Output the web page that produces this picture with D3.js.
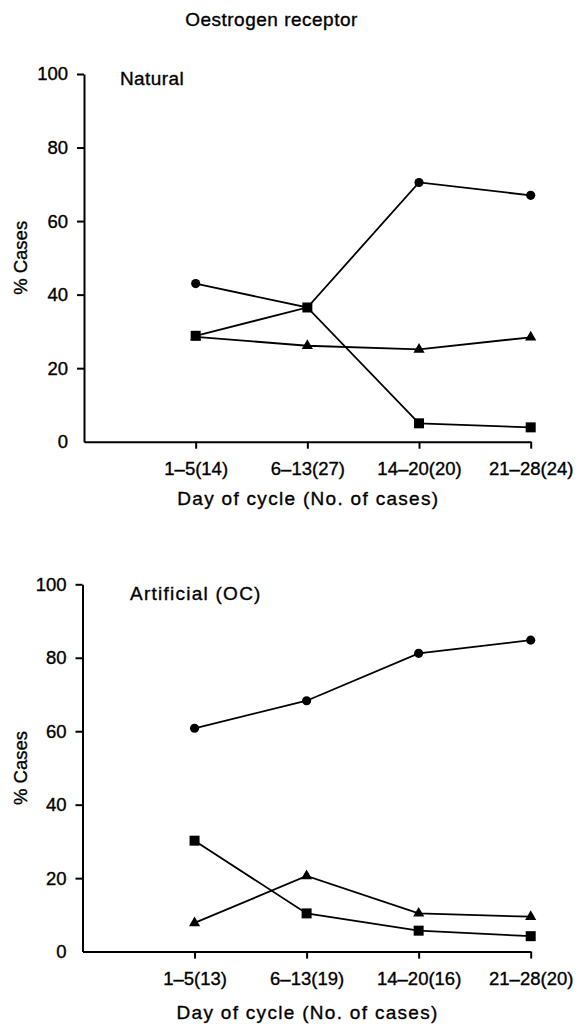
<!DOCTYPE html>
<html>
<head>
<meta charset="utf-8">
<script src="https://cdn.jsdelivr.net/npm/d3@7"></script>
<style>
  html, body { margin: 0; padding: 0; background: #fff; }
  svg { display: block; font-family: "Liberation Sans", Arial, Helvetica, sans-serif; }
  svg text { fill: #000; stroke: #000; stroke-width: 0.35px; }
</style>
</head>
<body>
<svg id="chart" width="577" height="1026"></svg>
<script>
// ---- data ----
const chartTitle = "Oestrogen receptor";
const xTitle = "Day of cycle (No. of cases)";
const yTitle = "% Cases";
const yTicks = [0, 20, 40, 60, 80, 100];

const naturalLabel = "Natural";
const naturalCategories = ["1–5(14)", "6–13(27)", "14–20(20)", "21–28(24)"];
const naturalCircle = [43, 36.5, 70.5, 67];
const naturalSquare = [28.8, 36.5, 5, 3.9];
const naturalTriangle = [28.5, 26.1, 25.1, 28.4];

const ocLabel = "Artificial (OC)";
const ocCategories = ["1–5(13)", "6–13(19)", "14–20(16)", "21–28(20)"];
const ocCircle = [60.8, 68.3, 81.2, 84.8];
const ocSquare = [30.2, 10.4, 5.7, 4.2];
const ocTriangle = [7.8, 20.6, 10.4, 9.5];

// ---- drawing ----
const svg = d3.select("#chart");
svg.append("rect").attr("width", 577).attr("height", 1026).attr("fill", "#fff");

svg.append("text")
  .attr("x", 271.5).attr("y", 26)
  .attr("text-anchor", "middle")
  .attr("font-size", 19).attr("letter-spacing", 0.5)
  .text(chartTitle);

function panel(cfg) {
  const x = d3.scaleLinear().domain([0, 4]).range([cfg.left, cfg.right]);
  const y = d3.scaleLinear().domain([0, 100]).range([cfg.bottom, cfg.top]);
  const g = svg.append("g");

  // y axis
  const ya = g.append("g")
    .attr("transform", `translate(${cfg.left},0)`)
    .call(d3.axisLeft(y).tickValues(yTicks).tickSize(7).tickPadding(9).tickSizeOuter(0));
  ya.select(".domain").attr("stroke-width", 2);
  ya.selectAll(".tick line").attr("stroke-width", 2)
    .filter(d => d === 0).remove();
  ya.selectAll(".tick text").attr("font-size", 18.5).attr("font-family", "Liberation Sans, Arial, sans-serif");

  // x axis
  const xa = g.append("g")
    .attr("transform", `translate(0,${cfg.bottom})`)
    .call(d3.axisBottom(x).tickValues([1, 2, 3, 4])
      .tickFormat(i => cfg.categories[i - 1])
      .tickSize(7).tickPadding(13.5).tickSizeOuter(0));
  xa.select(".domain").attr("stroke-width", 2);
  xa.selectAll(".tick line").attr("stroke-width", 2);
  xa.selectAll(".tick text").attr("font-size", 18.5).attr("font-family", "Liberation Sans, Arial, sans-serif");

  // axis titles
  g.append("text")
    .attr("x", (cfg.left + cfg.right) / 2 + 1)
    .attr("y", cfg.bottom + cfg.xTitleOffset)
    .attr("text-anchor", "middle")
    .attr("font-size", 19).attr("letter-spacing", 1.3)
    .text(xTitle);
  g.append("text")
    .attr("transform", `translate(27,${(cfg.top + cfg.bottom) / 2}) rotate(-90)`)
    .attr("text-anchor", "middle")
    .attr("font-size", 18.5)
    .text(yTitle);

  // panel label
  g.append("text")
    .attr("x", cfg.labelX).attr("y", cfg.labelY)
    .attr("font-size", 19).attr("letter-spacing", cfg.labelSpacing)
    .text(cfg.label);

  const line = d3.line().x((d, i) => x(i + 1)).y(d => y(d));
  const series = [
    { values: cfg.circle, shape: d3.symbolCircle, size: 66 },
    { values: cfg.triangle, shape: d3.symbolTriangle, size: 54 },
    { values: cfg.square, shape: d3.symbolSquare, size: 100 }
  ];
  series.forEach(s => {
    g.append("path").datum(s.values)
      .attr("d", line).attr("fill", "none")
      .attr("stroke", "#000").attr("stroke-width", 1.8);
  });
  series.forEach(s => {
    g.selectAll(null).data(s.values).enter().append("path")
      .attr("d", d3.symbol().type(s.shape).size(s.size))
      .attr("transform", (d, i) => `translate(${x(i + 1)},${y(d)})`)
      .attr("fill", "#000");
  });
}

panel({
  left: 84, right: 530.7, top: 74, bottom: 441.7,
  categories: naturalCategories,
  circle: naturalCircle, square: naturalSquare, triangle: naturalTriangle,
  label: naturalLabel, labelX: 120, labelY: 85, labelSpacing: 0.4,
  xTitleOffset: 63
});
panel({
  left: 82.5, right: 530.7, top: 584.3, bottom: 951.6,
  categories: ocCategories,
  circle: ocCircle, square: ocSquare, triangle: ocTriangle,
  label: ocLabel, labelX: 130, labelY: 599.5, labelSpacing: 1.25,
  xTitleOffset: 67
});
</script>
</body>
</html>
